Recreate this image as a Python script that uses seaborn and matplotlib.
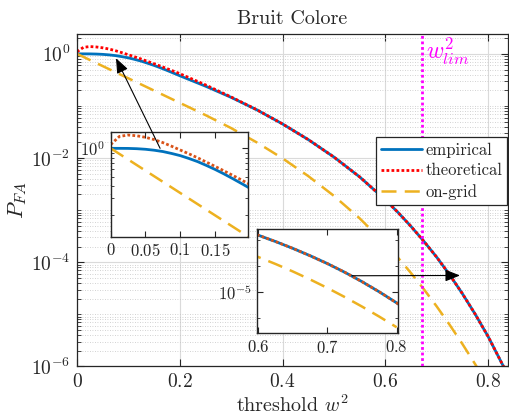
import numpy as np
import pandas as pd
import matplotlib
matplotlib.use("Agg")
import matplotlib.pyplot as plt
import seaborn as sns
from matplotlib.ticker import LogLocator, NullFormatter, FixedLocator
from matplotlib.patches import ConnectionPatch

# ---------------- data ----------------
threshold = [0, 0.0125, 0.025, 0.0375, 0.05, 0.0625, 0.075, 0.0875, 0.1, 0.1125, 0.125,
             0.1375, 0.15, 0.1625, 0.175, 0.1875, 0.2, 0.25, 0.3, 0.35, 0.4, 0.45, 0.5,
             0.55, 0.6, 0.625, 0.65, 0.675, 0.7, 0.725, 0.75, 0.775, 0.8, 0.84]
empirical = [1.0, 0.9993, 0.9977, 0.9908, 0.9772, 0.9550, 0.9247, 0.8831, 0.8375, 0.7816, 0.7244,
             0.6607, 0.5998, 0.5395, 0.4819, 0.4285, 0.3802, 0.2399, 0.1462, 0.08414, 0.04519,
             0.02265, 0.01047, 4.365e-3, 1.585e-3, 9.016e-4, 4.898e-4, 2.541e-4, 1.259e-4,
             5.821e-5, 2.512e-5, 1.012e-5, 3.802e-6, 6.457e-7]
theoretical = [1.096, 1.334, 1.380, 1.355, 1.306, 1.236, 1.148, 1.052, 0.9594, 0.8750, 0.7943,
               0.7161, 0.6457, 0.5808, 0.5212, 0.4667, 0.4169, 0.2541, 0.1486, 0.08472, 0.04519,
               0.02265, 0.01047, 4.365e-3, 1.585e-3, 9.016e-4, 4.898e-4, 2.541e-4, 1.259e-4,
               5.821e-5, 2.512e-5, 1.012e-5, 3.802e-6, 6.457e-7]
threshold_grid = [0, 0.05, 0.1, 0.15, 0.2, 0.25, 0.3, 0.35, 0.4, 0.45, 0.5, 0.55, 0.6,
                  0.625, 0.65, 0.675, 0.7, 0.725, 0.75, 0.775, 0.8]
on_grid = [1.0, 0.5821, 0.3388, 0.1972, 0.1148, 0.06683, 0.03758, 0.01995, 9.886e-3,
           4.519e-3, 1.884e-3, 6.998e-4, 2.265e-4, 1.216e-4, 6.237e-5, 3.055e-5, 1.429e-5,
           6.383e-6, 2.723e-6, 1.109e-6, 4.315e-7]
w2_lim = 0.671

series_labels = ["empirical", "theoretical", "on-grid"]
x_ticks_main = [0, 0.2, 0.4, 0.6, 0.8]
x_tick_labels_main = [r"$0$", r"$0.2$", r"$0.4$", r"$0.6$", r"$0.8$"]
y_ticks_main = [1e-6, 1e-4, 1e-2, 1e0]
y_tick_labels_main = [r"$10^{-6}$", r"$10^{-4}$", r"$10^{-2}$", r"$10^{0}$"]
x_ticks_in1 = [0, 0.05, 0.1, 0.15]
x_tick_labels_in1 = [r"$0$", r"$0.05$", r"$0.1$", r"$0.15$"]
x_ticks_in2 = [0.6, 0.7, 0.8]
x_tick_labels_in2 = [r"$0.6$", r"$0.7$", r"$0.8$"]

# ---------------- style ----------------
sns.set_style("ticks")
plt.rcParams.update({
    "font.family": ["serif"],
    "font.serif": ["cmr10", "DejaVu Serif"],
    "mathtext.fontset": "cm",
    "axes.unicode_minus": False,
    "axes.formatter.use_mathtext": True,
})

BLUE = "#0072BD"
RED = "#FF0000"
RED2 = "#D95319"
ORANGE = "#EDB120"
MAGENTA = "#FF00FF"
SPINE = "#262626"

DOT = (0, (1, 0.8))
DASH = (0, (6, 3.3))

df_emp = pd.DataFrame({"x": threshold, "y": empirical})
df_th = pd.DataFrame({"x": threshold, "y": theoretical})
df_og = pd.DataFrame({"x": threshold_grid, "y": on_grid})

fig = plt.figure(figsize=(5.09, 4.19), dpi=100)
ax = fig.add_axes([0.1513, 0.1253, 0.8458, 0.7947])


def draw(a, red_color):
    sns.lineplot(data=df_emp, x="x", y="y", ax=a, color=BLUE, lw=2.0,
                 errorbar=None, label=series_labels[0], legend=False)
    sns.lineplot(data=df_th, x="x", y="y", ax=a, color=red_color, lw=2.0,
                 linestyle=DOT, errorbar=None, label=series_labels[1], legend=False)
    sns.lineplot(data=df_og, x="x", y="y", ax=a, color=ORANGE, lw=1.8,
                 linestyle=DASH, errorbar=None, label=series_labels[2], legend=False)


draw(ax, RED)
ax.axvline(w2_lim, color=MAGENTA, ls=(0, (1, 1)), lw=2.0, zorder=3)
ax.text(0.679, 10 ** 0.05, r"$w^2_{lim}$", color=MAGENTA, fontsize=17,
        ha="left", va="center")

ax.set_yscale("log")
ax.set_xlim(0, 0.838)
ax.set_ylim(1e-6, 10 ** 0.39)
ax.set_xticks(x_ticks_main, labels=x_tick_labels_main)
ax.set_yticks(y_ticks_main, labels=y_tick_labels_main)
ax.yaxis.set_minor_locator(LogLocator(base=10, subs=np.arange(1, 10), numticks=100))
ax.yaxis.set_minor_formatter(NullFormatter())
ax.tick_params(which="both", direction="in", top=True, right=True, color=SPINE)
ax.tick_params(which="major", length=5, width=0.8, labelsize=14, pad=5)
ax.tick_params(which="minor", length=3, width=0.6)
ax.set_axisbelow(True)
ax.grid(which="major", color="#dadada", lw=0.8, ls="-")
ax.grid(which="minor", axis="y", color="#c4c4c4", lw=0.6, ls=(0, (1, 2)))
for s in ax.spines.values():
    s.set_color(SPINE)
    s.set_linewidth(0.9)

ax.set_title("Bruit Colore", fontsize=14.5, pad=7)
ax.set_xlabel(r"threshold $w^2$", fontsize=14.5)
ax.set_ylabel(r"$P_{FA}$", fontsize=16)
ax.xaxis.set_label_coords(0.5, -0.083)
ax.yaxis.set_label_coords(-0.112, 0.5)

handles = ax.get_lines()[:3]
leg = ax.legend(handles, series_labels, loc="upper right",
                bbox_to_anchor=(0.997, 0.672), bbox_transform=fig.transFigure,
                fontsize=12, fancybox=False, framealpha=1, edgecolor=SPINE,
                borderpad=0.3, handlelength=2.45, handletextpad=0.2,
                labelspacing=0.32, borderaxespad=0)
leg.get_frame().set_linewidth(0.9)


def style_inset(a):
    a.set_facecolor("white")
    a.tick_params(which="both", direction="in", top=True, right=True, color=SPINE)
    a.tick_params(which="major", length=4, width=0.8, labelsize=12, pad=4)
    a.tick_params(which="minor", length=2.5, width=0.6)
    for s in a.spines.values():
        s.set_color(SPINE)
        s.set_linewidth(1.0)
    a.set_xlabel("")
    a.set_ylabel("")


# inset 1
ins1 = fig.add_axes([0.2175, 0.4351, 0.2692, 0.2506])
draw(ins1, RED2)
ins1.set_yscale("log")
ins1.set_xlim(0, 0.197)
ins1.set_ylim(10 ** -0.93, 10 ** 0.175)
ins1.set_xticks(x_ticks_in1, labels=x_tick_labels_in1)
ins1.set_yticks([1e0], labels=[r"$10^{0}$"])
ins1.yaxis.set_minor_locator(LogLocator(base=10, subs=np.arange(1, 10), numticks=100))
ins1.yaxis.set_minor_formatter(NullFormatter())
style_inset(ins1)

# inset 2
ins2 = fig.add_axes([0.5055, 0.2045, 0.2758, 0.2482])
draw(ins2, RED2)
ins2.set_yscale("log")
ins2.set_xlim(0.5985, 0.8015)
ins2.set_ylim(10 ** -6.6, 10 ** -2.57)
ins2.set_xticks(x_ticks_in2, labels=x_tick_labels_in2)
ins2.set_yticks([1e-5], labels=[r"$10^{-5}$"])
ins2.yaxis.set_minor_locator(FixedLocator([1e-3, 1e-4, 1e-6]))
ins2.yaxis.set_minor_formatter(NullFormatter())
style_inset(ins2)

# arrows
arrow_style = "-|>,head_length=0.75,head_width=0.3"
con1 = ConnectionPatch(xyA=(0.071, 1.0), coordsA=ins1.transData,
                       xyB=(0.0759, 0.823), coordsB=ax.transData,
                       arrowstyle=arrow_style, mutation_scale=12, color="k",
                       lw=0.8, shrinkA=0, shrinkB=0, zorder=10)
fig.add_artist(con1)
con2 = ConnectionPatch(xyA=(0.7354, 4.27e-5), coordsA=ins2.transData,
                       xyB=(0.7455, 5.58e-5), coordsB=ax.transData,
                       arrowstyle=arrow_style, mutation_scale=12, color="k",
                       lw=0.8, shrinkA=0, shrinkB=0, zorder=10)
fig.add_artist(con2)

fig.savefig("out.png", dpi=100)
